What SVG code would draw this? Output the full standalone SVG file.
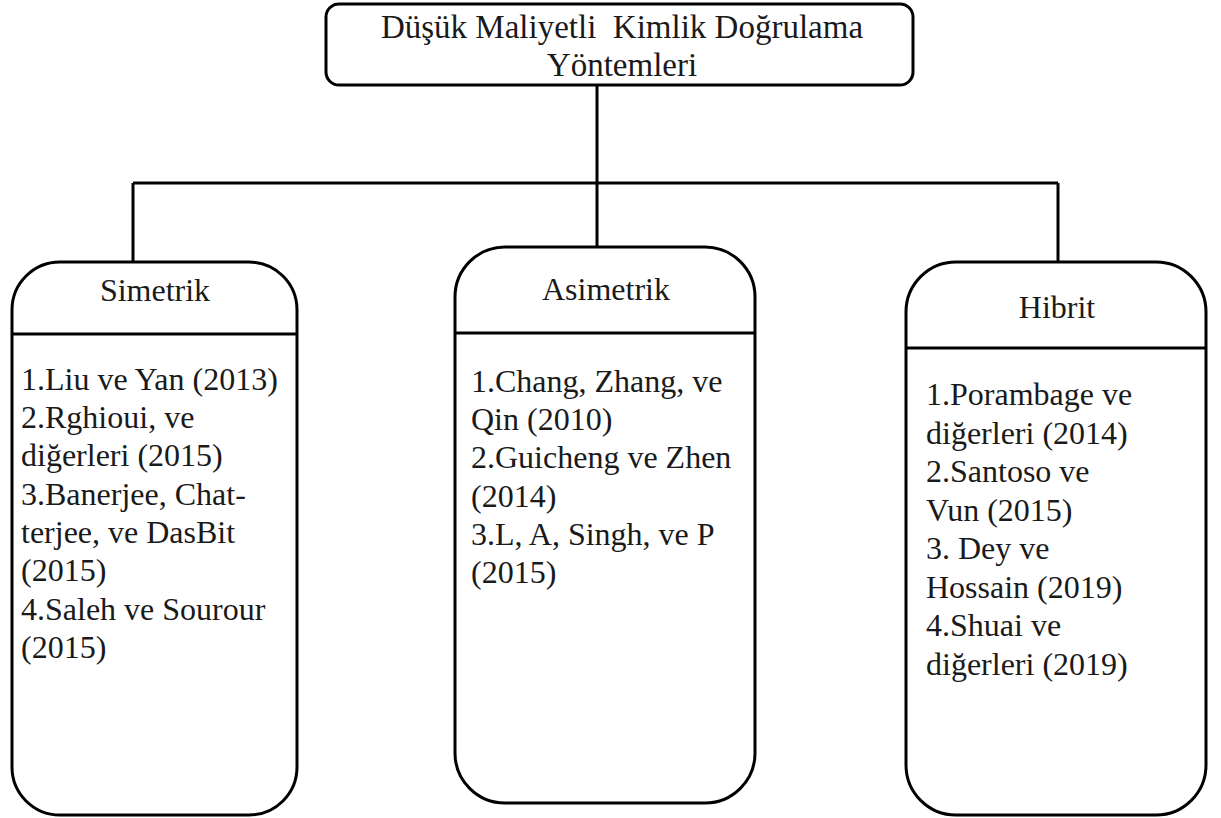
<svg xmlns="http://www.w3.org/2000/svg" width="1221" height="818" viewBox="0 0 1221 818">
  <style>
    .box { fill: #ffffff; stroke: #000000; stroke-width: 3; }
    .rule { stroke: #000000; stroke-width: 3; }
    .wire { fill: none; stroke: #000000; stroke-width: 3; }
    .lbl { font-family: 'Liberation Serif', 'DejaVu Serif', serif; font-size: 32px; fill: #1a1a1a; }
    .title { font-size: 33px; }
    .mid { text-anchor: middle; }
  </style>
  <rect width="1221" height="818" fill="#ffffff"/>

  <!-- tree connectors -->
  <g id="connectors">
    <path class="wire" d="M597 85 V183"/>
    <path class="wire" d="M133 183 H1058"/>
    <path class="wire" d="M133 183 V262"/>
    <path class="wire" d="M597 183 V247"/>
    <path class="wire" d="M1058 183 V262"/>
  </g>

  <!-- root -->
  <g id="root">
    <rect class="box" x="326" y="4" width="587" height="81" rx="13"/>
    <text class="lbl title mid" x="622" y="38" xml:space="preserve">Düşük Maliyetli  Kimlik Doğrulama</text>
    <text class="lbl title mid" x="622" y="76">Yöntemleri</text>
  </g>

  <!-- symmetric methods -->
  <g id="simetrik">
    <rect class="box" x="12" y="262" width="285" height="553" rx="48"/>
    <line class="rule" x1="12" y1="334" x2="297" y2="334"/>
    <text class="lbl mid" x="155" y="301">Simetrik</text>
    <text class="lbl" x="21" y="390">1.Liu ve Yan (2013)</text>
    <text class="lbl" x="21" y="428">2.Rghioui, ve</text>
    <text class="lbl" x="21" y="466">diğerleri (2015)</text>
    <text class="lbl" x="21" y="505">3.Banerjee, Chat-</text>
    <text class="lbl" x="21" y="543">terjee, ve DasBit</text>
    <text class="lbl" x="21" y="581">(2015)</text>
    <text class="lbl" x="21" y="620">4.Saleh ve Sourour</text>
    <text class="lbl" x="21" y="658">(2015)</text>
  </g>

  <!-- asymmetric methods -->
  <g id="asimetrik">
    <rect class="box" x="455" y="247" width="300" height="556" rx="50"/>
    <line class="rule" x1="455" y1="333" x2="755" y2="333"/>
    <text class="lbl mid" x="606" y="300">Asimetrik</text>
    <text class="lbl" x="471" y="392">1.Chang, Zhang, ve</text>
    <text class="lbl" x="471" y="430">Qin (2010)</text>
    <text class="lbl" x="471" y="468">2.Guicheng ve Zhen</text>
    <text class="lbl" x="471" y="507">(2014)</text>
    <text class="lbl" x="471" y="545">3.L, A, Singh, ve P</text>
    <text class="lbl" x="471" y="583">(2015)</text>
  </g>

  <!-- hybrid methods -->
  <g id="hibrit">
    <rect class="box" x="906" y="262" width="300" height="553" rx="50"/>
    <line class="rule" x1="906" y1="348" x2="1206" y2="348"/>
    <text class="lbl mid" x="1057" y="318">Hibrit</text>
    <text class="lbl" x="926" y="405">1.Porambage ve</text>
    <text class="lbl" x="926" y="444">diğerleri (2014)</text>
    <text class="lbl" x="926" y="482">2.Santoso ve</text>
    <text class="lbl" x="926" y="521">Vun (2015)</text>
    <text class="lbl" x="926" y="559">3. Dey ve</text>
    <text class="lbl" x="926" y="598">Hossain (2019)</text>
    <text class="lbl" x="926" y="636">4.Shuai ve</text>
    <text class="lbl" x="926" y="675">diğerleri (2019)</text>
  </g>
</svg>
